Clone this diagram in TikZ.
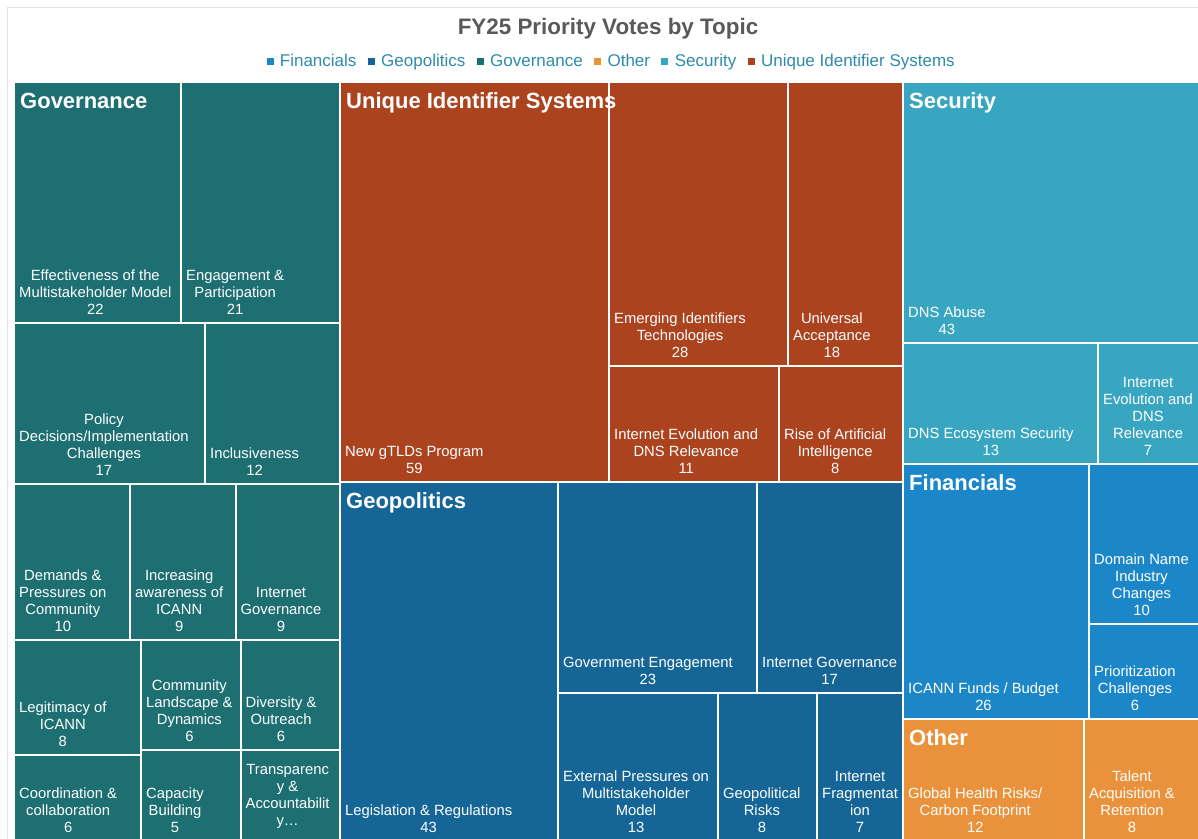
\documentclass[tikz,border=0pt]{standalone}
\usepackage{fontspec}
\setmainfont{Liberation Sans}
\usepackage{xcolor}
\usetikzlibrary{positioning}

\definecolor{govcol}{HTML}{1D6F72}
\definecolor{uidcol}{HTML}{AA431E}
\definecolor{seccol}{HTML}{38A6C1}
\definecolor{fincol}{HTML}{1C87C8}
\definecolor{geocol}{HTML}{156597}
\definecolor{othcol}{HTML}{EA923B}
\definecolor{legcol}{HTML}{2E8CAB}
\definecolor{titlecol}{HTML}{595959}
\definecolor{framecol}{HTML}{DDE5EC}

\begin{document}
\begin{tikzpicture}[
    x=1pt, y=-1pt,
    cell/.style={draw=white, line width=2pt},
    gov/.style={cell, fill=govcol},
    uid/.style={cell, fill=uidcol},
    geo/.style={cell, fill=geocol},
    sec/.style={cell, fill=seccol},
    fin/.style={cell, fill=fincol},
    oth/.style={cell, fill=othcol},
    lbl/.style={anchor=south west, inner sep=0pt, align=center, text=white, font=\fontsize{14.8}{17}\selectfont},
    cat/.style={anchor=base west, inner sep=0pt, text=white, font=\fontsize{22}{26}\selectfont\bfseries},
    legsq/.style={rectangle, minimum size=7pt, inner sep=0pt},
    legtxt/.style={inner sep=0pt, text=legcol, font=\fontsize{17}{20}\selectfont, text height=14pt, text depth=3pt}
]
\useasboundingbox (0,0) rectangle (1198,838);
\fill[white] (0,0) rectangle (1198,838);
\draw[framecol, line width=1pt] (7.5,7.5) rectangle (1210,850);

% Title and legend
\node[anchor=base, inner sep=0pt, text=titlecol, font=\fontsize{22.4}{26}\selectfont\bfseries] (title) at (608,34.5) {FY25 Priority Votes by Topic};

\node[legsq, fill=fincol] (sqfin) at (270,61) {};
\node[legtxt, right=6pt of sqfin] (legfin) {Financials};
\node[legsq, fill=geocol, right=11pt of legfin] (sqgeo) {};
\node[legtxt, right=6pt of sqgeo] (leggeo) {Geopolitics};
\node[legsq, fill=govcol, right=11pt of leggeo] (sqgov) {};
\node[legtxt, right=6pt of sqgov] (leggov) {Governance};
\node[legsq, fill=othcol, right=11pt of leggov] (sqoth) {};
\node[legtxt, right=6pt of sqoth] (legoth) {Other};
\node[legsq, fill=seccol, right=11pt of legoth] (sqsec) {};
\node[legtxt, right=6pt of sqsec] (legsec) {Security};
\node[legsq, fill=uidcol, right=11pt of legsec] (squid) {};
\node[legtxt, right=6pt of squid] (leguid) {Unique Identifier Systems};

% Governance
\draw[gov] (14,82) rectangle (181,323);
\draw[gov] (181,82) rectangle (340,323);
\draw[gov] (14,323) rectangle (205,484);
\draw[gov] (205,323) rectangle (340,484);
\draw[gov] (14,484) rectangle (130,640);
\draw[gov] (130,484) rectangle (235.5,640);
\draw[gov] (235.5,484) rectangle (340,640);
\draw[gov] (14,640) rectangle (141,755);
\draw[gov] (14,755) rectangle (141,841);
\draw[gov] (141,640) rectangle (240.5,750);
\draw[gov] (141,750) rectangle (240.5,841);
\draw[gov] (240.5,640) rectangle (340,750);
\draw[gov] (240.5,750) rectangle (340,841);

\node[lbl] (effect) at (19,314.5) {Effectiveness of the\\Multistakeholder Model\\22};
\node[lbl] (engage) at (186,314.5) {Engagement \&\\Participation\\21};
\node[lbl] (policy) at (19,475.5) {Policy\\Decisions/Implementation\\Challenges\\17};
\node[lbl] (inclus) at (210,475.5) {Inclusiveness\\12};
\node[lbl] (demand) at (19,631.5) {Demands \&\\Pressures on\\Community\\10};
\node[lbl] (aware) at (135,631.5) {Increasing\\awareness of\\ICANN\\9};
\node[lbl] (igov) at (240.5,631.5) {Internet\\Governance\\9};
\node[lbl] (legit) at (19,746.5) {Legitimacy of\\ICANN\\8};
\node[lbl] (coord) at (19,832.5) {Coordination \&\\collaboration\\6};
\node[lbl] (commun) at (146,741.5) {Community\\Landscape \&\\Dynamics\\6};
\node[lbl] (capac) at (146,832.5) {Capacity\\Building\\5};
\node[lbl] (divers) at (245.5,741.5) {Diversity \&\\Outreach\\6};
\node[lbl] (transp) at (245.5,828.5) {Transparenc\\y \&\\Accountabilit\\y…};

% Unique Identifier Systems
\draw[uid] (340,82) rectangle (609,482);
\draw[uid] (609,82) rectangle (788,366);
\draw[uid] (788,82) rectangle (903,366);
\draw[uid] (609,366) rectangle (779,482);
\draw[uid] (779,366) rectangle (903,482);

\node[lbl] (gtld) at (345,473.5) {New gTLDs Program\\59};
\node[lbl] (emerg) at (614,357.5) {Emerging Identifiers\\Technologies\\28};
\node[lbl] (univ) at (793,357.5) {Universal\\Acceptance\\18};
\node[lbl] (ievol) at (614,473.5) {Internet Evolution and\\DNS Relevance\\11};
\node[lbl] (rise) at (784,473.5) {Rise of Artificial\\Intelligence\\8};

% Geopolitics
\draw[geo] (340,482) rectangle (558,841);
\draw[geo] (558,482) rectangle (757,693);
\draw[geo] (757,482) rectangle (903,693);
\draw[geo] (558,693) rectangle (718,841);
\draw[geo] (718,693) rectangle (817,841);
\draw[geo] (817,693) rectangle (903,841);

\node[lbl] (legis) at (345,832.5) {Legislation \& Regulations\\43};
\node[lbl] (goveng) at (563,684.5) {Government Engagement\\23};
\node[lbl] (igovgeo) at (762,684.5) {Internet Governance\\17};
\node[lbl] (extern) at (563,832.5) {External Pressures on\\Multistakeholder\\Model\\13};
\node[lbl] (georisk) at (723,832.5) {Geopolitical\\Risks\\8};
\node[lbl] (frag) at (822,832.5) {Internet\\Fragmentat\\ion\\7};

% Security
\draw[sec] (903,82) rectangle (1200,343);
\draw[sec] (903,343) rectangle (1098,464);
\draw[sec] (1098,343) rectangle (1200,464);

\node[lbl] (abuse) at (908,334.5) {DNS Abuse\\43};
\node[lbl] (ecosys) at (908,455.5) {DNS Ecosystem Security\\13};
\node[lbl] (ievolsec) at (1103,455.5) {Internet\\Evolution and\\DNS\\Relevance\\7};

% Financials
\draw[fin] (903,464) rectangle (1089,719);
\draw[fin] (1089,464) rectangle (1200,624);
\draw[fin] (1089,624) rectangle (1200,719);

\node[lbl] (funds) at (908,710.5) {ICANN Funds / Budget\\26};
\node[lbl] (domain) at (1094,615.5) {Domain Name\\Industry\\Changes\\10};
\node[lbl] (prior) at (1094,710.5) {Prioritization\\Challenges\\6};

% Other
\draw[oth] (903,719) rectangle (1084,841);
\draw[oth] (1084,719) rectangle (1200,841);

\node[lbl] (health) at (908,832.5) {Global Health Risks/\\Carbon Footprint\\12};
\node[lbl] (talent) at (1089,832.5) {Talent\\Acquisition \&\\Retention\\8};

% Topic headers
\node[cat] (hgov) at (20,108) {Governance};
\node[cat] (huid) at (346,108) {Unique Identifier Systems};
\node[cat] (hsec) at (909,108) {Security};
\node[cat] (hgeo) at (346,508) {Geopolitics};
\node[cat] (hfin) at (909,490) {Financials};
\node[cat] (hoth) at (909,745) {Other};

\end{tikzpicture}
\end{document}
